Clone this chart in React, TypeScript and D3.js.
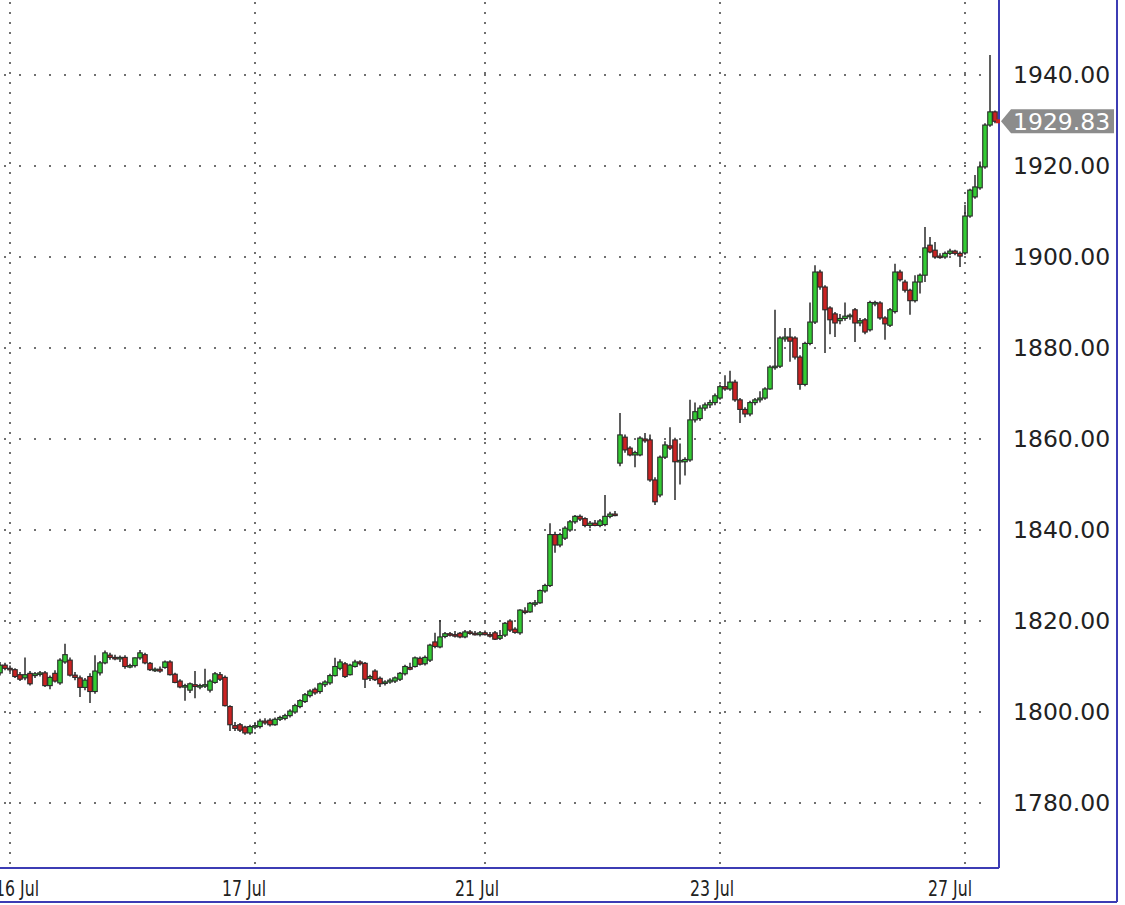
import React from 'react';
import * as d3 from 'd3';

// [open, high, low, close]
const candles: [number, number, number, number][] = [
  [1808.6,1811,1808,1810.3],[1810.3,1810.8,1809.2,1809.6],[1809.6,1810.2,1808.8,1809.3],[1809.3,1809.6,1807.5,1807.8],
  [1808.2,1808.8,1806.8,1807.2],[1807.5,1812,1807,1808.2],[1808.5,1809,1805.8,1806.2],[1808,1808.8,1807.5,1808.4],
  [1808.4,1809,1807.8,1808.6],[1808.6,1809,1805.5,1805.8],[1805.8,1808,1805,1807.6],[1808.5,1809.2,1806.5,1806.8],
  [1806.4,1811.8,1806,1811.4],[1811,1815,1810.6,1812.6],[1811.4,1812,1807.8,1808.1],[1808.1,1808.8,1807,1807.6],
  [1807.5,1808,1803.3,1805.4],[1805.4,1807.5,1804.8,1807],[1807.8,1808.5,1802,1804.5],[1804.5,1812.5,1804,1809],
  [1808.6,1811.2,1808,1810.8],[1810.8,1813.5,1810.5,1813],[1812.5,1813,1811.5,1812],[1812,1812.6,1811.4,1811.8],
  [1811.8,1812.4,1811,1812],[1812,1812.5,1809.5,1810],[1810,1810.6,1809.6,1810.2],[1810.2,1812,1809.8,1811.9],
  [1811.9,1813.6,1811.5,1813],[1812.6,1813,1810.5,1810.8],[1810.7,1811,1809,1809.3],[1809.3,1809.8,1808.8,1809.4],
  [1809.4,1810,1808.6,1809],[1809.8,1811.3,1809.5,1811],[1811,1811.4,1808,1808.2],[1808.3,1808.6,1806.3,1806.5],
  [1806.8,1807.2,1805.2,1805.5],[1805.5,1806.2,1802.5,1805.8],[1804.8,1806.5,1804.2,1806.2],[1806,1809,1803,1805.6],
  [1805.6,1806.2,1805,1805.8],[1805.8,1809.5,1805.3,1806],[1804.8,1807.2,1804.3,1806.8],[1806.5,1808.8,1806.2,1808.4],
  [1808.2,1808.8,1806.8,1807.2],[1807.6,1808,1801.2,1801.4],[1801.2,1801.5,1795.8,1797.2],[1797,1797.8,1795.8,1796.4],
  [1797.2,1797.6,1795.6,1796],[1796.7,1797,1795,1795.4],[1795.4,1797.2,1795,1796.8],[1796.8,1797.6,1796.2,1797],
  [1796.8,1798.5,1796.4,1798],[1798,1798.6,1797.2,1797.6],[1798.2,1798.6,1796.8,1797.2],[1797.2,1798.8,1797,1798.4],
  [1798.4,1799.2,1798,1798.8],[1798.6,1799.6,1798.2,1799.2],[1799.2,1800.6,1798.8,1800.2],[1800,1801.8,1799.6,1801.4],
  [1801.2,1802.8,1800.8,1802.5],[1802.3,1804.2,1802,1803.8],[1803.6,1805,1803.2,1804.6],[1805,1805.4,1803.8,1804.2],
  [1804.5,1806.5,1804,1806.2],[1806,1807,1805.5,1806.6],[1806.4,1808.4,1806,1808],[1808,1811.9,1807.8,1810],
  [1809.6,1811.6,1809.2,1811],[1810.6,1811,1807.5,1807.8],[1808.2,1810.6,1808,1810.3],[1810,1811.5,1809.8,1811],
  [1811,1811.4,1810.2,1810.6],[1810.7,1811,1805.3,1807.2],[1807.4,1808.2,1806.8,1807.8],[1809,1809.4,1806.8,1807.1],
  [1807.4,1807.8,1805.5,1806.2],[1806.4,1807,1805.8,1806.6],[1806.6,1807.4,1806.2,1807],[1806.8,1807.8,1806.4,1807.5],
  [1807.2,1808.8,1806.8,1808.5],[1808.4,1810.4,1808,1810],[1809.8,1810.8,1809.2,1809.4],[1810,1812.2,1809.8,1811.9],
  [1811.8,1812.2,1810.2,1810.5],[1810.6,1812.4,1810.2,1812],[1811.4,1815,1811,1814.7],[1815.4,1817.4,1814,1814.4],
  [1814.3,1820.2,1814,1816.5],[1816.6,1817.6,1816.2,1817.2],[1817.2,1817.6,1816.6,1817],[1817,1817.8,1816.4,1816.8],
  [1817.3,1817.6,1816.2,1816.5],[1816.5,1818,1816.2,1817.6],[1817.6,1818,1817,1817.3],[1817.3,1817.8,1816.8,1817],
  [1817,1817.8,1816.6,1817.4],[1817.4,1817.9,1816.8,1817],[1817,1817.6,1816.4,1816.8],[1817.4,1817.8,1815.8,1816],
  [1816.2,1818,1815.8,1816.8],[1816.9,1819.8,1816.5,1819.5],[1820,1820.4,1817.6,1818],[1818.2,1818.6,1817.2,1817.5],
  [1817.4,1822.6,1817,1822.4],[1822.2,1823,1821.5,1822],[1822,1824.2,1821.8,1823.9],[1823.8,1824.6,1823.2,1824],
  [1824,1826.9,1823.8,1826.7],[1826.6,1828.2,1826.2,1827.8],[1827.8,1841.5,1827.5,1839],[1839,1839.6,1835,1836.7],
  [1836.7,1839.4,1836.2,1839],[1838.2,1840.8,1837.8,1840.4],[1840,1842.2,1839.6,1841.8],[1841.8,1843.3,1841.4,1843],
  [1843,1843.4,1842,1842.4],[1842.5,1842.8,1840.6,1841],[1841,1842,1840.4,1841.5],[1841.5,1842.2,1840.8,1841],
  [1841,1842.4,1840.6,1842],[1841.2,1847.7,1840.8,1843],[1843,1844,1842.6,1843.5],[1843.5,1844.2,1843,1843.3],
  [1854.7,1865.7,1854,1860.9],[1860.4,1861,1857,1857.6],[1858,1858.4,1856.2,1856.5],[1856.5,1857.4,1853.8,1857],
  [1856.5,1860.6,1856.2,1860.2],[1860,1861.3,1859.2,1859.6],[1859.8,1861,1850.6,1851],[1851,1851.6,1845.5,1846.2],
  [1847.7,1856.4,1847.2,1856],[1856,1859.5,1855.6,1858.7],[1858.5,1862.6,1857.6,1858],[1859.8,1860.3,1846.6,1855],
  [1855,1859,1850,1855.3],[1855,1856,1852,1855.5],[1855.4,1868.6,1855,1864.2],[1864.2,1868,1863.6,1866],
  [1864.5,1867.4,1864,1866.8],[1866.8,1868,1866.2,1867.5],[1867.5,1868.6,1866.8,1868],[1868,1870,1867.4,1869.5],
  [1869,1872,1868.6,1871.5],[1871.5,1874,1870.6,1871],[1871,1875,1870.6,1872.5],[1872.5,1873,1868.2,1868.6],
  [1868.6,1869,1863.5,1866.5],[1866.5,1867,1864.8,1865.5],[1865.5,1868.4,1865,1868],[1868,1869,1867.4,1868.6],
  [1868.6,1870.5,1868,1869],[1869,1871.4,1868.6,1871],[1871,1876.2,1870.8,1875.8],[1875.8,1888.4,1875.2,1876],
  [1876,1882.6,1875.6,1882.2],[1882,1884.4,1881.4,1882.4],[1882.4,1884.4,1877,1881.5],[1882.2,1882.6,1877.5,1878],
  [1878,1878.4,1870.8,1872],[1872,1881.4,1871.6,1881],[1881,1890,1880.6,1885.7],[1885.7,1898.2,1885.3,1896.7],
  [1896.7,1897.2,1892.8,1893.4],[1893.4,1893.8,1878.9,1888.4],[1888.8,1889.2,1883,1886.2],[1887.5,1887.9,1882.4,1885.5],
  [1886,1887.5,1885.2,1886.5],[1886.5,1890,1886,1887],[1887,1887.6,1886.2,1887.2],[1888.4,1888.8,1881.3,1885.5],
  [1885.5,1886.6,1884.8,1886],[1886.2,1886.6,1883,1883.5],[1884,1890.4,1883.6,1890],[1889.8,1890.4,1889.2,1890],
  [1889.9,1890.3,1886.2,1886.6],[1886.6,1887,1881.8,1885.3],[1885,1888.8,1884.6,1888.4],[1888,1898.5,1887.6,1896.7],
  [1896.7,1897.2,1894.6,1895],[1894.5,1895,1892.2,1892.7],[1892.7,1893,1887.3,1890.4],[1890.4,1896,1890,1894.5],
  [1894.5,1896.4,1892,1896],[1896,1906.6,1894.5,1902],[1902.6,1904.4,1900.8,1901.1],[1901.5,1903.3,1899.6,1900],
  [1900.2,1900.8,1899.6,1900],[1900,1901.2,1899.6,1900.8],[1900.8,1901.8,1900.4,1901.3],[1901.3,1901.6,1900.4,1900.8],
  [1900.8,1901.2,1897.8,1900.2],[1900.9,1911.5,1900.5,1909],[1909,1915,1908.6,1914.7],[1913.2,1918,1912.8,1915.4],
  [1915.2,1921,1914.8,1919.8],[1919.8,1929.4,1919.4,1929],[1929,1944.4,1928.6,1931.9],[1931.9,1932.2,1929.4,1929.83],
];

const yTicks = [1780, 1800, 1820, 1840, 1860, 1880, 1900, 1920, 1940];
const gridIdx = [2, 51, 97, 144, 193];
const dateLabels = ['16 Jul', '17 Jul', '21 Jul', '23 Jul', '27 Jul'];
const labelIdx = [3.4, 48.8, 95.4, 142.4, 190];
const lastPrice = 1929.83;

const BLUE = '#3c3cb4';
const GRID = '#707070';
const UP = '#33cc33';
const DOWN = '#cc2222';
const OUTLINE = '#2a2a2a';

export default function App() {
  const W = 1125, H = 905;
  const plotRight = 999, axisRight = 1117, plotBottom = 868, outerBottom = 902;
  const x = d3.scaleLinear().domain([0, candles.length - 1]).range([0, 995]);
  const y = d3.scaleLinear().domain([1780, 1940]).range([803, 75]);
  const bw = 4.5;
  const py = y(lastPrice);

  return (
    <svg width={W} height={H} style={{ position: 'absolute', left: 0, top: 0, background: '#fff' }}
      fontFamily="DejaVu Sans, sans-serif">
      <rect x={0} y={0} width={W} height={H} fill="#fff" />
      {yTicks.map(t => (
        <line key={'h' + t} x1={4} x2={990} y1={y(t)} y2={y(t)} stroke={GRID}
          strokeWidth={2} strokeDasharray="2 13" />
      ))}
      {gridIdx.map(i => (
        <line key={'v' + i} x1={x(i)} x2={x(i)} y1={2} y2={plotBottom - 2} stroke={GRID}
          strokeWidth={2} strokeDasharray="2 8" />
      ))}
      {candles.map((c, i) => {
        const [o, h, l, cl] = c;
        const cx = x(i);
        const top = y(Math.max(o, cl));
        const bot = y(Math.min(o, cl));
        const up = cl >= o;
        return (
          <g key={i}>
            <line x1={cx} x2={cx} y1={y(h)} y2={y(l)} stroke={OUTLINE} strokeWidth={1.5} />
            <rect x={cx - bw / 2} y={top} width={bw} height={Math.max(1.5, bot - top)}
              fill={up ? UP : DOWN} stroke={OUTLINE} strokeWidth={1.1} />
          </g>
        );
      })}
      <line x1={plotRight} x2={plotRight} y1={0} y2={plotBottom} stroke={BLUE} strokeWidth={2} />
      <line x1={0} x2={plotRight} y1={plotBottom} y2={plotBottom} stroke={BLUE} strokeWidth={2} />
      <line x1={axisRight} x2={axisRight} y1={0} y2={outerBottom} stroke={BLUE} strokeWidth={2} />
      <line x1={0} x2={axisRight} y1={outerBottom} y2={outerBottom} stroke={BLUE} strokeWidth={2} />
      {yTicks.map(t => (
        <text key={'yl' + t} x={1013} y={y(t)} dy="0.36em" fontSize={23.5} fill="#222">
          {d3.format('.2f')(t)}
        </text>
      ))}
      <path d={`M${plotRight + 2},${py} L${1011},${py - 12} L${1114},${py - 12} L${1114},${py + 12} L${1011},${py + 12} Z`}
        fill="#8c8c8c" />
      <text x={1013} y={py} dy="0.36em" fontSize={23.5} fill="#fff">{d3.format('.2f')(lastPrice)}</text>
      <rect x={plotRight - 3} y={py - 2} width={4} height={4} fill={DOWN} />
      {dateLabels.map((d, k) => (
        <text key={d} x={x(labelIdx[k])} y={896} fontSize={22} fill="#222" textAnchor="middle"
          textLength={44} lengthAdjust="spacingAndGlyphs">{d}</text>
      ))}
    </svg>
  );
}
